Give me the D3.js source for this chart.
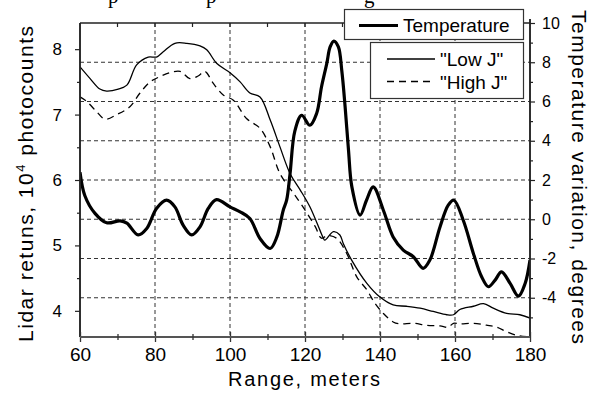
<!DOCTYPE html>
<html><head><meta charset="utf-8">
<script src="https://cdn.jsdelivr.net/npm/d3@7"></script>
<style>
html,body{margin:0;padding:0;background:#fff;}
svg{display:block;font-family:"Liberation Sans",Arial,sans-serif;}
</style></head>
<body><svg id="chart" width="600" height="394"></svg>
<script>
// ---- data ----
const xTicks = [60, 80, 100, 120, 140, 160, 180];
const xMinorTicks = [70, 90, 110, 130, 150, 170];
const leftTicks = [4, 5, 6, 7, 8];
const leftMinorTicks = [4.5, 5.5, 6.5, 7.5];
const rightTicks = [-4, -2, 0, 2, 4, 6, 8, 10];
const rightMinorTicks = [-5, -3, -1, 1, 3, 5, 7, 9];
const gridX = [80, 100, 120, 140, 160];
const gridRight = [-4, -2, 0, 2, 4, 6, 8];

const tempRange = [60,61.3,64,67.1,70.7,72.5,75.5,77.8,80.4,83.1,85.3,87.5,89.8,92,94.2,96.4,100,102.7,105.3,108,110.7,112.5,114.2,115.1,116,117.3,119.1,121.3,123.1,124.4,125.8,126.7,127.7,128.9,129.8,130.7,131.6,132.5,134.7,136.4,138.2,140.9,143.5,146.2,148.9,151.5,153.3,156,158.2,159.7,162.2,164.9,167.1,168.9,170.7,172.4,174.7,176.9,178.7,180];
const temperature = [2.4,1.2,0.3,-0.18,-0.08,-0.2,-0.8,-0.47,0.55,0.97,0.63,-0.3,-0.8,-0.39,0.55,1.0,0.63,0.38,0.04,-0.98,-1.49,-0.9,0.46,0.97,2.3,4.5,5.3,4.79,5.39,6.74,7.93,8.78,9.08,8.78,7.59,5.73,3.52,1.65,0.21,0.97,1.65,0.46,-0.9,-1.57,-1.91,-2.5,-2.08,-0.39,0.72,0.97,-0.05,-1.74,-2.93,-3.44,-3.1,-2.68,-3.27,-3.92,-3.27,-2.08];

const lowRange = [60,62.7,65.3,67.1,70.2,72.5,75.1,78.2,80.4,82.2,85.3,88.5,92,93.8,96.5,100,102.7,105.3,108,110.7,113.3,116,118.7,121.3,124,124.9,125.3,127.6,129.3,130.2,132.4,136.5,140,143.5,147.1,150.7,154.2,157.8,159.6,161.3,164.9,167.6,170.2,173.8,177.3,180];
const lowJ = [7.73,7.55,7.39,7.36,7.39,7.45,7.76,7.88,7.88,7.96,8.09,8.09,8.05,7.99,7.78,7.64,7.50,7.33,7.27,6.92,6.51,6.10,5.85,5.59,5.23,5.11,5.08,5.21,5.16,5.03,4.78,4.42,4.21,4.09,4.07,4.04,3.99,3.94,3.94,4.02,4.07,4.11,4.04,3.96,3.94,3.89];

const highRange = [60,61.8,64.5,66.7,69.8,73.3,76,78.7,81.3,84,86.7,89.3,91.5,93.3,95.5,98.2,100.9,104.4,108,110.7,113.3,116.9,119.1,122.7,124.4,126,128.4,131.1,133.8,136.5,138.7,140.9,143.5,145.3,148.9,152.4,156,158.2,159.6,161.3,164.9,168.4,171.1,173.8,176.9,180];
const highJ = [7.27,7.2,7.04,6.93,7.0,7.12,7.33,7.50,7.58,7.64,7.66,7.55,7.59,7.66,7.48,7.30,7.22,6.94,6.79,6.51,6.10,5.80,5.62,5.29,5.11,5.15,5.11,4.88,4.52,4.32,4.11,3.96,3.83,3.80,3.81,3.78,3.77,3.75,3.81,3.80,3.81,3.78,3.75,3.68,3.62,3.6];

const legendLabels = ["Temperature", "\"Low J\"", "\"High J\""];

// ---- layout ----
const svg = d3.select("#chart");
const L = 80, R = 530, T = 23, B = 337;
const x = d3.scaleLinear().domain([60, 180]).range([L, R]);
const yL = d3.scaleLinear().domain([3.6, 8.4]).range([B, T]);
const yR = d3.scaleLinear().domain([-6, 10]).range([B, T]);
const font = '"Liberation Sans",Arial,sans-serif';

// partial caption (cut off at top edge in the original)
const cap = svg.append("g").attr("font-family", '"Liberation Serif","Times New Roman",serif').attr("font-size", 21);
[["p",108],["p",206],["g",364]].forEach(([c, px]) => cap.append("text").attr("x", px).attr("y", 3).text(c));

// grid
const grid = svg.append("g").attr("stroke", "#333").attr("stroke-width", 1).attr("stroke-dasharray", "4,3");
gridX.forEach(v => grid.append("line").attr("x1", x(v)).attr("x2", x(v)).attr("y1", T).attr("y2", B));
gridRight.forEach(v => grid.append("line").attr("x1", L).attr("x2", R).attr("y1", yR(v)).attr("y2", yR(v)));

// curves
svg.append("clipPath").attr("id", "clip").append("rect").attr("x", L).attr("y", T - 5).attr("width", R - L).attr("height", B - T + 5);
const g = svg.append("g").attr("clip-path", "url(#clip)");
const lidarLine = d3.line().x(d => x(d[0])).y(d => yL(d[1])).curve(d3.curveCatmullRom.alpha(0.5));
const tempLine = d3.line().x(d => x(d[0])).y(d => yR(d[1])).curve(d3.curveCatmullRom.alpha(0.5));
g.append("path").attr("d", lidarLine(d3.zip(lowRange, lowJ))).attr("fill", "none").attr("stroke", "#000").attr("stroke-width", 1.3);
g.append("path").attr("d", lidarLine(d3.zip(highRange, highJ))).attr("fill", "none").attr("stroke", "#000").attr("stroke-width", 1.3).attr("stroke-dasharray", "7,5");
g.append("path").attr("d", tempLine(d3.zip(tempRange, temperature))).attr("fill", "none").attr("stroke", "#000").attr("stroke-width", 3.2).attr("stroke-linejoin", "round");

// frame top
svg.append("line").attr("x1", L).attr("x2", R).attr("y1", T).attr("y2", T).attr("stroke", "#222").attr("stroke-width", 1.5);
const topTicks = xMinorTicks.concat([80, 100, 120, 140, 160]);
topTicks.forEach(v => svg.append("line").attr("x1", x(v)).attr("x2", x(v)).attr("y1", T).attr("y2", T + 4).attr("stroke", "#222").attr("stroke-width", 1.2));

// left axis
const la = svg.append("g").attr("transform", `translate(${L},0)`)
  .call(d3.axisLeft(yL).tickValues(leftTicks).tickSize(5).tickPadding(13).tickFormat(d => String(d)));
la.selectAll("text").attr("font-size", 17).attr("font-family", font).attr("fill", "#000");
la.append("g").call(d3.axisLeft(yL).tickValues(leftMinorTicks).tickSize(3).tickFormat(""));
la.selectAll("path.domain").attr("stroke", "#222").attr("stroke-width", 1.5).attr("d", `M0,${T}V${B}`);
la.selectAll(".tick line").attr("stroke", "#222").attr("stroke-width", 1.2);

// right axis
const ra = svg.append("g").attr("transform", `translate(${R},0)`)
  .call(d3.axisRight(yR).tickValues(rightTicks).tickSize(5).tickPadding(7).tickFormat(d => String(d)));
ra.selectAll("text").attr("font-size", 16).attr("font-family", font).attr("fill", "#000");
ra.append("g").call(d3.axisRight(yR).tickValues(rightMinorTicks).tickSize(3).tickFormat(""));
ra.selectAll("path.domain").attr("stroke", "#222").attr("stroke-width", 1.5).attr("d", `M0,${T - 4}V${B}`);
ra.selectAll(".tick line").attr("stroke", "#222").attr("stroke-width", 1.2);

// bottom axis
const ba = svg.append("g").attr("transform", `translate(0,${B})`)
  .call(d3.axisBottom(x).tickValues(xTicks).tickSize(5).tickPadding(6).tickFormat(d => String(d)));
ba.selectAll("text").attr("font-size", 19).attr("font-family", font).attr("fill", "#000");
ba.selectAll(".tick line").attr("y1", -5).attr("y2", 5);
const bm = ba.append("g").call(d3.axisBottom(x).tickValues(xMinorTicks).tickSize(3).tickFormat(""));
bm.selectAll(".tick line").attr("y1", -3).attr("y2", 3);
ba.selectAll("path.domain").attr("stroke", "#555").attr("stroke-width", 2).attr("d", `M${L},0H${R}`);
ba.selectAll(".tick line").attr("stroke", "#333").attr("stroke-width", 1.3);

// axis titles
svg.append("text").attr("x", 304).attr("y", 386).attr("text-anchor", "middle").attr("font-size", 20)
  .attr("textLength", 152).attr("lengthAdjust", "spacing").text("Range, meters");
const lt = svg.append("text").attr("transform", "translate(33,184) rotate(-90)").attr("text-anchor", "middle").attr("font-size", 21)
  .attr("textLength", 316).attr("lengthAdjust", "spacing");
lt.append("tspan").text("Lidar retuns, 10");
lt.append("tspan").attr("font-size", 13).attr("dy", -8).text("4");
lt.append("tspan").attr("dy", 8).text(" photocounts");
svg.append("text").attr("transform", "translate(572,177) rotate(90)").attr("text-anchor", "middle").attr("font-size", 21)
  .attr("textLength", 334).attr("lengthAdjust", "spacing").text("Temperature variation, degrees");

// legends
const lg1 = svg.append("g");
lg1.append("rect").attr("x", 344.5).attr("y", 9.5).attr("width", 179).attr("height", 30).attr("fill", "#fff").attr("stroke", "#333").attr("stroke-width", 1.2);
lg1.append("line").attr("x1", 359).attr("x2", 398).attr("y1", 25.5).attr("y2", 25.5).attr("stroke", "#000").attr("stroke-width", 3.2);
lg1.append("text").attr("x", 403).attr("y", 32).attr("font-size", 19).text(legendLabels[0]);

const lg2 = svg.append("g");
lg2.append("rect").attr("x", 370.5).attr("y", 42.5).attr("width", 153).attr("height", 56).attr("fill", "#fff").attr("stroke", "#333").attr("stroke-width", 1.2);
lg2.append("line").attr("x1", 387).attr("x2", 435).attr("y1", 59).attr("y2", 59).attr("stroke", "#000").attr("stroke-width", 1.3);
lg2.append("line").attr("x1", 387).attr("x2", 435).attr("y1", 81.5).attr("y2", 81.5).attr("stroke", "#000").attr("stroke-width", 1.3).attr("stroke-dasharray", "7,5");
lg2.append("text").attr("x", 440).attr("y", 66).attr("font-size", 19).text(legendLabels[1]);
lg2.append("text").attr("x", 440).attr("y", 88.5).attr("font-size", 19).text(legendLabels[2]);
</script></body></html>
